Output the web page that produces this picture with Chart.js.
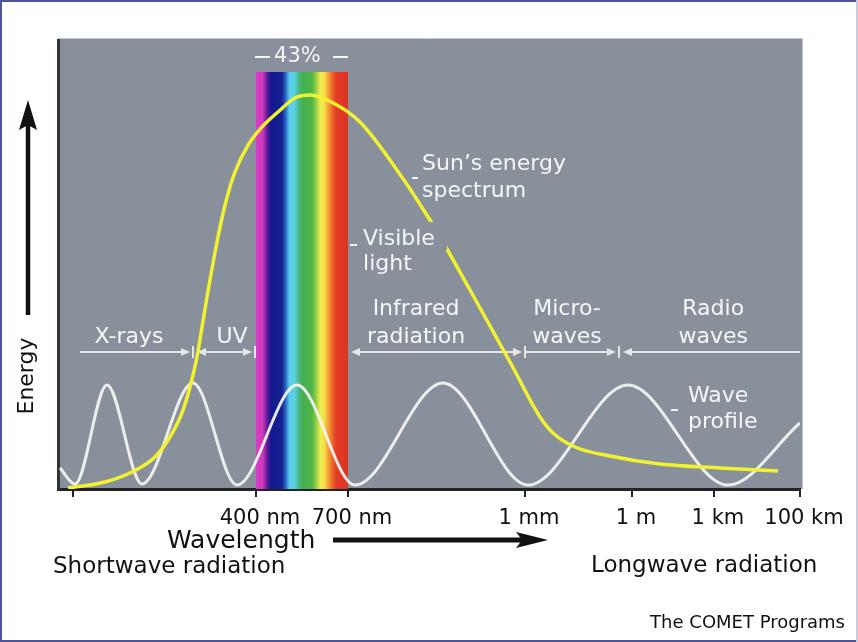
<!DOCTYPE html>
<html><head><meta charset="utf-8">
<script src="https://cdn.jsdelivr.net/npm/chart.js@4"></script>
<style>html,body{margin:0;padding:0;background:#fff;}canvas{display:block;}</style>
</head><body>
<canvas id="c" width="858" height="642"></canvas>
<script>
// ---- Data (x: position along the wavelength axis, 0–100; y: relative energy, 0–100) ----
const tickPositions = [2.02, 26.68, 39.08, 62.94, 77.36, 88.4, 100];
const tickLabels = ['', '400 nm', '700 nm', '1 mm', '1 m', '1 km', '100 km'];

const sunX = [1.35, 6.33, 9.97, 13.07, 15.09, 16.71, 17.79, 18.73, 19.41, 20.08, 21.43, 22.51, 23.85, 25.61, 27.49, 29.65, 31.94, 33.96, 37.33, 40.70, 44.74, 50.13, 55.53, 60.92, 64.96, 66.71, 69.68, 74.39, 81.13, 89.22, 97.04];
const sunY = [0.22, 1.56, 3.79, 7.13, 11.58, 16.93, 22.72, 29.40, 36.08, 42.76, 55.01, 63.25, 70.60, 76.61, 80.62, 83.96, 87.08, 87.75, 85.75, 81.74, 73.27, 59.91, 44.32, 28.29, 16.04, 12.47, 9.35, 7.35, 5.57, 4.68, 4.01];

const waveX = [0.27, 2.29, 6.6, 11.32, 18.19, 24.12, 32.21, 40.03, 51.89, 63.34, 76.82, 90.3, 100];
const waveY = [4.68, 1.11, 23.16, 1.11, 23.61, 0.89, 23.16, 0.89, 23.61, 0.89, 23.16, 0.89, 14.7];

const visibleBand = [26.68, 39.08];
const visibleTop = [92.87, 92.87];
const visiblePercent = '43%';

const regionNames = [['X-rays'], ['UV'], ['Infrared', 'radiation'], ['Micro-', 'waves'], ['Radio', 'waves']];
const regionEdges = [2.96, 18.19, 26.55, 39.35, 62.94, 75.61, 100];

// ---- Styles ----
const FONT = "'DejaVu Sans', 'Liberation Sans', sans-serif";
const GREY = '#88919b';
const LABEL = '#f6f6f6';
const spectrumStops = [
  [0, '#d83ec4'], [0.075, '#cc38bc'], [0.118, '#6a1c9c'], [0.16, '#141890'],
  [0.28, '#14208e'], [0.32, '#2a60c4'], [0.366, '#5ccff0'], [0.42, '#58d0e0'],
  [0.46, '#4cb890'], [0.505, '#44b050'], [0.61, '#50b448'], [0.656, '#98d048'],
  [0.70, '#eef050'], [0.742, '#f4e048'], [0.785, '#f4a038'], [0.828, '#ec6a2c'],
  [0.87, '#e23c26'], [1, '#dd3424']
];

function xy(xs, ys) { return xs.map((x, i) => ({ x, y: ys[i] })); }

function text(ctx, s, x, y, size, color, align) {
  ctx.save();
  ctx.font = size + 'px ' + FONT;
  ctx.fillStyle = color;
  ctx.textAlign = align || 'left';
  ctx.textBaseline = 'alphabetic';
  ctx.fillText(s, x, y);
  ctx.restore();
}

const bgPlugin = {
  id: 'bg',
  beforeDraw(chart) {
    const { ctx, chartArea: a } = chart;
    ctx.save();
    ctx.fillStyle = '#fff';
    ctx.fillRect(0, 0, chart.width, chart.height);
    ctx.fillStyle = GREY;
    ctx.fillRect(a.left, a.top - 1, a.right - a.left + 2, a.bottom - a.top + 1);
    ctx.strokeStyle = '#c2c7cf';
    ctx.lineWidth = 1;
    ctx.beginPath();
    ctx.moveTo(a.left, a.top - 1.5); ctx.lineTo(a.right + 2.5, a.top - 1.5); ctx.lineTo(a.right + 2.5, a.bottom);
    ctx.stroke();
    ctx.restore();
  },
  beforeDatasetsDraw(chart) {
    const { ctx } = chart;
    const xs = chart.scales.x, ys = chart.scales.y;
    const y = ys.getPixelForValue(30.51);
    const px = v => xs.getPixelForValue(v);
    ctx.save();
    ctx.strokeStyle = '#e4e6e8';
    ctx.fillStyle = '#e4e6e8';
    ctx.lineWidth = 2;
    const head = (tip, dir) => {
      ctx.beginPath(); ctx.moveTo(tip, y); ctx.lineTo(tip - dir * 9, y - 4); ctx.lineTo(tip - dir * 9, y + 4); ctx.closePath(); ctx.fill();
    };
    const seg = (a, b) => { ctx.beginPath(); ctx.moveTo(a, y); ctx.lineTo(b, y); ctx.stroke(); };
    const tick = v => { ctx.beginPath(); ctx.moveTo(px(v), y - 6); ctx.lineTo(px(v), y + 6); ctx.stroke(); };
    const e = regionEdges;
    seg(px(e[0]), px(e[1]) - 6); head(px(e[1]) - 3, 1); tick(e[1]);
    head(px(e[1]) + 4, -1); seg(px(e[1]) + 6, px(e[2]) - 6); head(px(e[2]) - 3, 1); tick(e[2]);
    head(px(e[3]) + 1, -1); seg(px(e[3]) + 4, px(e[4]) - 6); head(px(e[4]) - 3, 1); tick(e[4]);
    seg(px(e[4]), px(e[5]) - 6); head(px(e[5]) - 3, 1); tick(e[5]);
    head(px(e[5]) + 4, -1); seg(px(e[5]) + 6, px(e[6]));
    ctx.restore();
  },
  afterDatasetsDraw(chart) {
    const { ctx } = chart;
    const xs = chart.scales.x, ys = chart.scales.y;
    const px = v => xs.getPixelForValue(v), py = v => ys.getPixelForValue(v);
    const base = py(32.52);
    const centers = [9.57, 23.45, 48.25, 68.6, 88.3];
    regionNames.forEach((lines, i) => {
      lines.forEach((s, j) => {
        text(ctx, s, px(centers[i]), base - (lines.length - 1 - j) * 28, 22, LABEL, 'center');
      });
    });
    ctx.save();
    ctx.font = '22px ' + FONT;
    const vx = px(41.11), vy = py(54.34);
    const w = ctx.measureText('Visible').width;
    ctx.fillStyle = GREY;
    ctx.fillRect(vx - 2, vy - 23, w + 14, 28);
    ctx.restore();
    text(ctx, 'Visible', vx, vy, 22, LABEL);
    text(ctx, 'light', vx, vy + 25, 22, LABEL);
    const sx = px(49.06), sy = py(71.05);
    text(ctx, 'Sun\u2019s energy', sx, sy, 22, LABEL);
    text(ctx, 'spectrum', sx, sy + 27, 22, LABEL);
    const wx = px(84.9), wy = py(19.38);
    text(ctx, 'Wave', wx, wy, 22, LABEL);
    text(ctx, 'profile', wx, wy + 26, 22, LABEL);
    ctx.save();
    ctx.strokeStyle = LABEL; ctx.lineWidth = 2;
    const dash = (x0, x1, y) => { ctx.beginPath(); ctx.moveTo(x0, y); ctx.lineTo(x1, y); ctx.stroke(); };
    dash(sx - 10, sx - 4, sy + 8);
    dash(vx - 13, vx - 6, vy);
    dash(wx - 17, wx - 10, wy + 8);
    const b0 = px(visibleBand[0]), b1 = px(visibleBand[1]);
    const ty = py(96.21);
    dash(b0 - 1, b0 + 14, ty);
    dash(b1 - 15, b1, ty);
    ctx.restore();
    ctx.save();
    ctx.font = '21px ' + FONT;
    ctx.fillStyle = LABEL; ctx.textAlign = 'center'; ctx.textBaseline = 'middle';
    ctx.fillText(visiblePercent, px(32.27), ty);
    ctx.restore();
  },
  afterDraw(chart) {
    const { ctx } = chart;
    ctx.save();
    ctx.fillStyle = '#111'; ctx.strokeStyle = '#111';
    ctx.lineWidth = 4.5;
    ctx.beginPath(); ctx.moveTo(28, 315); ctx.lineTo(28, 124); ctx.stroke();
    ctx.beginPath(); ctx.moveTo(28, 100); ctx.lineTo(19, 130); ctx.lineTo(28, 125); ctx.lineTo(37, 130); ctx.closePath(); ctx.fill();
    ctx.translate(33, 376); ctx.rotate(-Math.PI / 2);
    ctx.font = '22px ' + FONT; ctx.textAlign = 'center'; ctx.textBaseline = 'alphabetic';
    ctx.fillText('Energy', 0, 0);
    ctx.restore();
    text(ctx, 'Wavelength', 167, 548, 25, '#111');
    ctx.save();
    ctx.strokeStyle = '#111'; ctx.fillStyle = '#111'; ctx.lineWidth = 5;
    ctx.beginPath(); ctx.moveTo(333, 540); ctx.lineTo(525, 540); ctx.stroke();
    ctx.beginPath(); ctx.moveTo(548, 540); ctx.lineTo(516, 532); ctx.lineTo(522, 540); ctx.lineTo(516, 548); ctx.closePath(); ctx.fill();
    ctx.restore();
    text(ctx, 'Shortwave radiation', 53, 573, 23, '#111');
    text(ctx, 'Longwave radiation', 591, 572, 23, '#111');
    text(ctx, 'The COMET Programs', 845, 628, 18, '#111', 'right');
    ctx.save();
    ctx.lineWidth = 2;
    ctx.strokeStyle = '#c9cbd6';
    ctx.beginPath(); ctx.moveTo(857, 0); ctx.lineTo(857, 642); ctx.stroke();
    ctx.strokeStyle = '#4e5496';
    ctx.beginPath(); ctx.moveTo(856, 1); ctx.lineTo(1, 1); ctx.lineTo(1, 641); ctx.lineTo(856, 641); ctx.stroke();
    ctx.restore();
  }
};

function spectrumFill(c) {
  const chart = c.chart;
  if (!chart.chartArea) return GREY;
  const xs = chart.scales.x;
  const g = chart.ctx.createLinearGradient(xs.getPixelForValue(visibleBand[0]), 0, xs.getPixelForValue(visibleBand[1]), 0);
  spectrumStops.forEach(([o, col]) => g.addColorStop(o, col));
  return g;
}

new Chart(document.getElementById('c'), {
  type: 'line',
  data: {
    datasets: [
      { label: 'Sun\u2019s energy spectrum', data: xy(sunX, sunY), borderColor: '#f2f230', borderWidth: 3.5,
        pointRadius: 0, cubicInterpolationMode: 'monotone', fill: false, order: 1 },
      { label: 'Wave profile', data: xy(waveX, waveY), borderColor: 'rgba(242,242,242,0.95)', borderWidth: 3,
        pointRadius: 0, cubicInterpolationMode: 'monotone', fill: false, order: 2 },
      { label: 'Visible light', data: xy(visibleBand, visibleTop), borderWidth: 0, borderColor: 'rgba(0,0,0,0)',
        pointRadius: 0, fill: 'origin', backgroundColor: spectrumFill, order: 3 }
    ]
  },
  options: {
    responsive: false,
    animation: false,
    events: [],
    layout: { padding: { left: 58, top: 40, right: 58, bottom: 0 } },
    plugins: { legend: { display: false }, tooltip: { enabled: false } },
    scales: {
      x: {
        type: 'linear', min: 0, max: 100,
        afterBuildTicks: s => { s.ticks = tickPositions.map(v => ({ value: v })); },
        afterFit: s => { s.height = 153; },
        ticks: { autoSkip: false, maxRotation: 0, padding: 9, labelOffset: 4, color: '#111',
          font: { family: FONT, size: 21 }, callback: (v, i) => tickLabels[i] },
        grid: { display: true, drawOnChartArea: false, drawTicks: true, tickLength: 8, color: '#222', lineWidth: 2 },
        border: { display: true, color: '#222', width: 3 }
      },
      y: {
        type: 'linear', min: 0, max: 100,
        afterFit: s => { s.width = 0; },
        ticks: { display: false },
        grid: { display: false },
        border: { display: true, color: '#333', width: 3 }
      }
    }
  },
  plugins: [bgPlugin]
});
</script>
</body></html>
